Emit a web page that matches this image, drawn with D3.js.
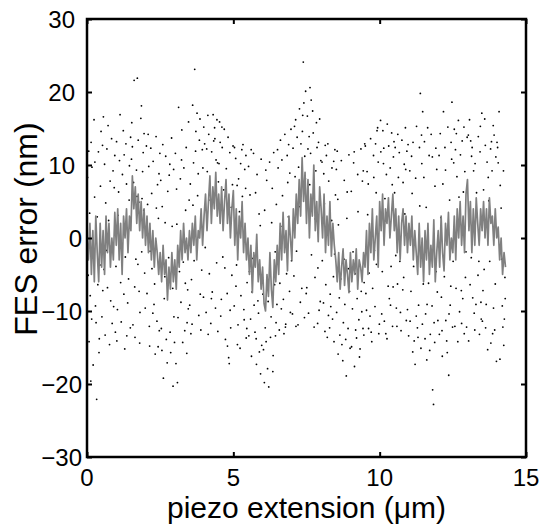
<!DOCTYPE html>
<html>
<head>
<meta charset="utf-8">
<script src="https://cdn.jsdelivr.net/npm/d3@7"></script>
<style>
  body { margin: 0; background: #fff; }
  text { font-family: "Liberation Sans", Arial, sans-serif; fill: #000; }
</style>
</head>
<body>
<script>
// Tick values
const xTicks = [0, 5, 10, 15];
const yTicks = [-30, -20, -10, 0, 10, 20, 30];

// Grey line: FES error sampled every 0.05 um starting at 0
const lineStart = 0;
const lineStep = 0.05;
const lineValues = [
  0, -3, 2, -5, 1, -6, 3, -2, -6, 2,
  -4, 1, -5, 3, -2, 2, -4, 0, -3, 3.5,
  -1, 4, -3, 2, -5, 3, 0, 4, -2, 3,
  1, 8.5, 4, 7, 2, 6, 1, 5, 0, 4,
  -1, 3, -2, 2, -3, 1, -4, 0, -2, -5,
  -2, -6, -1, -5, -3, -8.5, -4, -7, -2, -6,
  -3, -7, -1, -4, 1, -3, 2, -2, 0, -3,
  1, -2, 2, -1, 3, -3, 1, 0, 4, -1,
  3, 6, 1, 5, 8.5, 2, 7, 4, 9, 3,
  6, 2, 7, 1, 5, 8, 2, 6, 0, 4,
  6.5, -1, 4, -3, 3, 0, 5, -2, 2, -3,
  0, -5, -1, -7.5, -2, -4, 0.5, -6, -3, -7,
  -4, -9, -10, -5, -8, -2, -7, -9.5, -3, -6,
  -1, -5, 2, -3, 3.5, -2, 1, -4.5, 3, 0,
  -3, 4, 0, 6, 2, 8, 3, 11, 5, 9,
  2, 8, 0, 6, 3, 10, 1, 5, -0.5, 7,
  4, 0, 6, -2, 3, -1, 5, -2.5, 2, -1,
  -3, -6, -2, -7, -4, -1.5, -6.5, -3, -5, -7.5,
  -2, -6, -3, -5, -1.5, -7, -3, -4, -6, -2,
  -4, 1, -5, 2, -2, 4, -3, 0, 3, -4,
  5, 1, 6, -1, 4, 2, 5.5, 0, 3, 6,
  1, 4, -2, 3, -3, 2, 4, -1, 3, -2,
  2, -1, 3, -3, 1, -2, -5, 2, -4, 0,
  -6, 1, -3, 2, -5, -1, -4, 2.5, -6, -2,
  1, -4, 3, -2, -4.5, 2, -1, 3.5, -3, 0,
  -2, 3, -3, 4, 0, 5, -1, 3, -2, 6,
  8, 1, 5, -2, 4, -1, 5.5, 2, -1, 4,
  1, 5, 0, 4, -1, 5.5, 2, 3, -1, 4,
  0, 1.5, -3, 0, -5, -2, -4
];

// Scattered raw points [piezo extension, FES error]
const dotPoints = [
  [0.02,8.3],[0.31,-11.6],[0.14,13.1],[0.44,-3.7],[0.07,-14.2],[0.26,5.6],[0.39,11.8],[0.11,-7.9],[0.21,-17.4],[0.35,2.9],[0.04,-5.1],[0.48,14.6],[0.17,9.7],[0.29,-9.3],[0.42,-13.8],[0.09,3.4],[0.24,16.2],[0.37,-6.4],[0.46,7.1],[0.13,-19.6],[0.33,-22.1],[0.19,-2.2],[0.06,11.9],[0.41,-15.7],[0.27,10.4],[0.16,-11.1],
  [0.53,12.7],[0.81,-8.6],[0.64,4.8],[0.97,-12.9],[0.58,-4.3],[0.72,15.4],[0.89,9.2],[0.51,-10.8],[0.77,-14.6],[0.93,6.9],[0.66,-1.7],[0.84,13.6],[0.6,10.1],[0.7,-6.8],[0.99,-3.9],[0.56,16.6],[0.86,-11.7],[0.74,2.4],[0.62,-13.3],[0.95,11.3],[0.79,7.8],[0.54,-7.2],[0.68,12.2],[0.91,-9.4],[0.83,-1.1],
  [1.04,-9.8],[1.27,11.4],[1.13,16.9],[1.42,-5.6],[1.08,6.3],[1.36,-13.4],[1.21,8.7],[1.49,13.8],[1.02,-14.1],[1.31,-2.6],[1.17,-11.5],[1.45,9.9],[1.24,14.7],[1.06,3.1],[1.39,-8.9],[1.15,-6.1],[1.33,12.9],[1.48,-12.3],[1.11,10.6],[1.29,-15.2],[1.44,5.2],[1.19,-3.4],[1.35,7.4],[1.01,13.2],[1.26,-7.7],
  [1.53,15.8],[1.78,-7.3],[1.61,21.6],[1.92,11.7],[1.57,-11.9],[1.84,16.4],[1.69,9.3],[1.97,-4.8],[1.64,-13.6],[1.88,5.4],[1.72,21.9],[1.55,12.5],[1.81,-10.2],[1.95,14.3],[1.67,-2.9],[1.86,18.1],[1.59,7.6],[1.75,13.4],[1.99,-9.6],[1.63,-6.7],[1.9,9.1],[1.71,5.7],[1.8,-14.4],[1.52,10.8],[1.94,3.8],[1.77,4.9],[1.74,-3.6],[1.87,-1.9],
  [2.03,12.6],[2.29,-9.1],[2.14,-14.8],[2.41,7.3],[2.07,4.6],[2.36,13.9],[2.22,-4.2],[2.47,-12.7],[2.11,9.8],[2.33,-15.9],[2.18,12.3],[2.44,2.7],[2.05,-7.6],[2.26,10.5],[2.39,-11.4],[2.16,-1.8],[2.49,11.6],[2.21,6.1],[2.31,-6.3],[2.09,14.2],[2.43,-14.9],[2.25,-10.3],[2.37,4.1],[2.13,-12.1],[2.46,8.8],
  [2.54,-12.4],[2.81,8.6],[2.61,-19.2],[2.93,-6.9],[2.57,4.3],[2.86,-15.7],[2.69,11.2],[2.97,-10.8],[2.64,-8.3],[2.89,13.7],[2.74,-17.1],[2.52,7.9],[2.79,-2.7],[2.94,-20.3],[2.67,2.1],[2.84,-12.9],[2.59,12.8],[2.76,6.4],[2.99,-14.3],[2.71,-13.9],[2.91,1.6],[2.56,-15.4],[2.83,10.1],[2.66,-5.3],[2.96,9.4],
  [3.04,-17.2],[3.31,9.6],[3.09,-19.8],[3.42,-11.6],[3.13,17.9],[3.37,3.8],[3.21,-8.8],[3.47,15.9],[3.06,6.7],[3.27,-14.3],[3.39,12.4],[3.16,-4.6],[3.44,-7.1],[3.02,11.6],[3.24,14.8],[3.34,-12.7],[3.11,-10.9],[3.49,5.2],[3.19,8.1],[3.29,-3.3],[3.41,-15.8],[3.07,1.9],[3.36,-6.2],[3.23,10.7],[3.46,-9.7],
  [3.53,7.4],[3.82,-10.6],[3.61,18.2],[3.94,12.1],[3.57,-5.7],[3.86,16.3],[3.68,23.1],[3.98,-8.1],[3.64,10.3],[3.89,-12.6],[3.72,14.6],[3.51,-9.2],[3.78,5.8],[3.96,9.6],[3.66,-3.1],[3.84,13.4],[3.59,-11.8],[3.76,17.1],[3.92,-4.4],[3.62,4.5],[3.87,-7.7],[3.71,11.9],[3.99,15.2],[3.55,-13.1],[3.8,8.8],
  [4.02,12.9],[4.28,-7.4],[4.13,16.8],[4.41,10.7],[4.07,-10.2],[4.36,15.1],[4.21,5.2],[4.47,-12.8],[4.11,9.1],[4.33,13.3],[4.18,-4.9],[4.44,16.2],[4.04,-1.3],[4.26,11.8],[4.39,-9.6],[4.16,14.2],[4.49,7.7],[4.23,-11.7],[4.31,16.9],[4.09,12.2],[4.43,-3.4],[4.25,-8.3],[4.37,13.6],[4.14,-13.2],[4.46,10.3],
  [4.53,15.9],[4.79,-7.6],[4.62,12.4],[4.91,-12.3],[4.57,-10.7],[4.84,-16.4],[4.69,14.9],[4.97,7.3],[4.64,-2.6],[4.88,11.7],[4.73,-13.9],[4.51,10.2],[4.82,13.8],[4.95,-5.1],[4.67,6.6],[4.86,-17.2],[4.59,-8.4],[4.76,9.5],[4.99,12.6],[4.61,15.2],[4.89,-9.9],[4.71,-4.1],[4.93,4.2],[4.55,13.1],[4.8,-14.8],
  [5.03,-9.3],[5.29,12.1],[5.14,-14.6],[5.42,6.8],[5.08,10.9],[5.37,-11.2],[5.21,3.6],[5.47,-6.1],[5.11,-3.7],[5.33,12.8],[5.18,8.1],[5.44,-13.7],[5.04,12.4],[5.26,-7.9],[5.39,9.4],[5.16,-11.9],[5.49,-1.4],[5.23,-15.1],[5.31,5.7],[5.09,-6.6],[5.43,11.3],[5.25,10.2],[5.36,-9.8],[5.13,7.2],[5.46,-12.4],
  [5.53,-13.4],[5.81,8.7],[5.62,-16.2],[5.93,-18.6],[5.57,5.9],[5.86,-10.3],[5.69,11.6],[5.97,-14.7],[5.64,-7.4],[5.88,3.3],[5.74,-12.9],[5.52,9.8],[5.79,-17.3],[5.95,10.8],[5.67,-2.8],[5.84,-8.6],[5.59,-11.1],[5.76,6.2],[5.99,-5.4],[5.61,12.1],[5.89,-15.6],[5.71,-9.2],[5.92,1.7],[5.55,-4.6],[5.78,-13.8],
  [6.03,-15.3],[6.29,-10.8],[6.06,-19.8],[6.41,-6.4],[6.14,7.9],[6.36,-16.1],[6.17,-17.9],[6.47,4.6],[6.21,-20.4],[6.33,6.8],[6.09,-12.3],[6.44,-13.4],[6.24,10.4],[6.01,-7.7],[6.38,11.7],[6.12,-14.2],[6.49,-9.1],[6.27,-13.6],[6.31,2.1],[6.07,3.8],[6.43,-1.9],[6.19,-8.7],[6.35,-18.3],[6.11,9.3],[6.46,-11.6],
  [6.53,9.6],[6.79,-11.8],[6.61,13.4],[6.92,-7.3],[6.57,-12.6],[6.84,11.3],[6.68,5.8],[6.97,14.9],[6.64,-9.7],[6.88,2.9],[6.73,-13.1],[6.51,12.1],[6.82,-4.9],[6.95,-10.2],[6.66,10.7],[6.86,7.6],[6.59,-6.2],[6.76,14.2],[6.99,-3.1],[6.62,1.6],[6.89,12.8],[6.71,-8.4],[6.93,8.9],[6.55,-2.7],[6.78,-12.2],
  [7.04,12.3],[7.29,-8.8],[7.13,16.2],[7.41,18.5],[7.07,-5.2],[7.36,14.6],[7.21,-11.9],[7.47,20.1],[7.11,8.4],[7.34,-6.9],[7.18,13.8],[7.44,11.2],[7.02,-10.4],[7.26,17.7],[7.39,24.1],[7.16,-1.8],[7.49,-7.6],[7.23,9.7],[7.31,12.9],[7.09,15.3],[7.43,-10.9],[7.25,4.3],[7.37,16.8],[7.14,-12.1],[7.46,8.1],
  [7.53,16.7],[7.79,-5.4],[7.62,20.6],[7.91,13.1],[7.57,-10.3],[7.84,15.8],[7.66,18.9],[7.97,-8.7],[7.64,11.6],[7.88,-11.7],[7.73,14.4],[7.51,-6.8],[7.82,9.2],[7.95,16.3],[7.67,-2.3],[7.86,12.4],[7.59,13.9],[7.76,-12.2],[7.99,10.6],[7.61,7.3],[7.89,-4.1],[7.71,17.4],[7.93,-9.9],[7.55,12.2],[7.8,2.6],
  [8.03,10.4],[8.29,-12.3],[8.14,12.7],[8.42,-5.3],[8.08,-8.9],[8.37,9.6],[8.21,-13.6],[8.47,12.1],[8.11,4.7],[8.33,-9.4],[8.18,11.3],[8.44,-14.2],[8.04,-3.1],[8.26,7.8],[8.39,-11.1],[8.16,-6.4],[8.49,5.9],[8.23,12.9],[8.31,-7.7],[8.09,8.8],[8.43,10.5],[8.25,-10.6],[8.36,2.4],[8.13,-12.8],[8.46,-2.2],
  [8.53,-10.2],[8.79,7.9],[8.58,-15.9],[8.92,-12.4],[8.57,5.3],[8.86,-18.9],[8.69,10.6],[8.97,-7.3],[8.64,-13.3],[8.88,2.7],[8.74,-16.8],[8.52,9.4],[8.81,-9.1],[8.95,11.4],[8.67,-5.6],[8.84,-13.9],[8.59,1.8],[8.76,-11.6],[8.99,-15.1],[8.62,-8.2],[8.89,6.3],[8.71,-14.6],[8.93,-4.2],[8.55,11.9],[8.78,-2.9],
  [9.03,6.4],[9.29,-11.2],[9.14,-17.6],[9.41,7.8],[9.07,-9.7],[9.36,12.2],[9.21,-13.7],[9.47,-6.1],[9.11,10.3],[9.33,-15.2],[9.18,-12.6],[9.44,9.2],[9.04,-14.9],[9.26,3.6],[9.39,-10.1],[9.16,-4.9],[9.49,12.9],[9.23,-8.3],[9.31,-16.3],[9.09,-1.9],[9.43,-12.4],[9.25,8.7],[9.37,-7.3],[9.13,11.8],[9.46,-13.3],
  [9.53,-7.6],[9.79,11.3],[9.62,-12.4],[9.91,14.7],[9.57,9.1],[9.84,-9.4],[9.69,13.6],[9.97,-13.1],[9.64,-4.8],[9.88,6.2],[9.73,-14.2],[9.51,12.6],[9.82,-1.7],[9.95,10.4],[9.67,-10.7],[9.86,12.9],[9.59,3.2],[9.76,-6.9],[9.99,-11.8],[9.61,7.4],[9.89,-3.6],[9.71,-12.9],[9.93,15.1],[9.55,-9.9],[9.8,8.3],
  [10.03,16.1],[10.29,-6.6],[10.14,12.3],[10.41,14.4],[10.07,-10.4],[10.36,9.6],[10.21,-13.1],[10.47,11.1],[10.11,14.7],[10.33,-8.3],[10.18,5.4],[10.44,-12.1],[10.04,11.8],[10.26,15.6],[10.39,-3.9],[10.16,-11.4],[10.49,13.2],[10.23,8.7],[10.31,12.6],[10.09,-4.6],[10.43,7.3],[10.25,-13.8],[10.37,-9.2],[10.13,10.2],[10.46,-6.7],
  [10.53,12.4],[10.79,-7.1],[10.62,14.2],[10.91,-11.3],[10.57,-9.6],[10.84,10.1],[10.69,-3.2],[10.97,12.8],[10.64,8.3],[10.88,15.1],[10.73,-12.7],[10.51,6.2],[10.82,-5.4],[10.95,-9.8],[10.67,11.7],[10.86,3.3],[10.59,-12.1],[10.76,13.4],[10.99,-13.4],[10.61,-6.3],[10.89,9.4],[10.71,-10.2],[10.93,11.9],[10.55,-2.4],[10.8,7.6],
  [11.03,9.2],[11.29,-12.3],[11.14,13.1],[11.41,-15.1],[11.07,-7.3],[11.36,12.4],[11.21,-17.3],[11.47,17.3],[11.11,6.1],[11.33,-9.2],[11.18,-14.1],[11.44,10.2],[11.04,-11.4],[11.26,15.3],[11.39,19.8],[11.16,-3.9],[11.49,-6.3],[11.23,8.2],[11.31,-13.6],[11.09,11.2],[11.43,14.1],[11.25,-10.7],[11.37,4.4],[11.13,-15.6],[11.46,-11.8],
  [11.53,13.2],[11.79,-9.3],[11.61,-16.7],[11.92,12.3],[11.57,-10.4],[11.84,-22.8],[11.69,11.3],[11.97,-7.4],[11.64,15.1],[11.88,-14.3],[11.73,-13.2],[11.51,8.3],[11.81,-20.8],[11.95,9.4],[11.67,-6.2],[11.86,-11.6],[11.59,4.2],[11.76,14.2],[11.99,-11.3],[11.62,-9.1],[11.89,7.1],[11.71,-15.4],[11.93,-4.6],[11.55,-13.8],[11.8,11.1],
  [12.03,11.3],[12.29,-14.1],[12.14,-16.2],[12.41,-9.2],[12.07,14.3],[12.36,-18.8],[12.21,-5.3],[12.47,18.6],[12.11,-8.1],[12.33,15.2],[12.18,17.3],[12.44,13.1],[12.04,-13.2],[12.26,-11.3],[12.39,5.2],[12.16,7.4],[12.49,-12.2],[12.23,12.4],[12.31,-15.7],[12.09,2.8],[12.43,-6.6],[12.25,9.3],[12.37,-10.4],[12.13,-12.7],[12.46,10.8],
  [12.53,10.3],[12.79,-7.2],[12.62,14.3],[12.91,9.1],[12.57,-12.1],[12.84,-8.3],[12.69,16.1],[12.97,-12.2],[12.64,8.4],[12.88,15.2],[12.73,-10.1],[12.51,-3.2],[12.82,13.3],[12.95,-1.9],[12.67,-14.2],[12.86,6.3],[12.59,12.1],[12.76,11.4],[12.99,13.8],[12.61,-6.9],[12.89,-13.1],[12.71,5.6],[12.93,-5.4],[12.55,14.9],[12.8,-11.7],
  [13.03,14.1],[13.29,-9.1],[13.14,11.2],[13.41,-13.2],[13.07,16.2],[13.36,-5.1],[13.21,9.2],[13.47,-11.1],[13.11,13.3],[13.33,3.1],[13.18,-8.2],[13.44,15.3],[13.04,-14.1],[13.26,10.2],[13.39,-3.2],[13.16,12.4],[13.49,17.1],[13.23,-10.3],[13.31,6.2],[13.09,-6.4],[13.43,11.8],[13.25,-12.6],[13.37,13.9],[13.13,-2.7],[13.46,-8.8],
  [13.53,-7.2],[13.79,12.2],[13.62,-12.3],[13.91,14.1],[13.57,-4.3],[13.84,9.2],[13.69,-15.3],[13.97,11.1],[13.64,-9.1],[13.88,15.4],[13.73,5.1],[13.51,-11.4],[13.82,13.2],[13.95,-6.3],[13.67,10.4],[13.86,-13.1],[13.59,16.3],[13.76,-3.2],[13.99,-16.9],[13.61,12.7],[13.89,-9.6],[13.71,8.3],[13.93,-12.6],[13.55,6.6],[13.8,-14.4],
  [14.03,12.4],[14.19,-9.3],[14.08,17.3],[14.24,-14.7],[14.12,7.2],[14.28,-5.4],[14.05,10.3],[14.21,-12.2],[14.15,4.1],[14.29,-8.3],[14.01,13.1],[14.26,-11.1],[14.11,-16.6],[14.17,-2.9],[14.23,9.2]
];

// Layout
const width = 542;
const height = 525;
const margin = { top: 19, right: 16, bottom: 68, left: 87 };
const plotW = width - margin.left - margin.right;
const plotH = height - margin.top - margin.bottom;
const tickLen = 5;

const svg = d3
  .select("body")
  .append("svg")
  .attr("width", width)
  .attr("height", height);

const g = svg
  .append("g")
  .attr("transform", `translate(${margin.left}, ${margin.top})`);

const x = d3.scaleLinear().domain([0, 15]).range([0, plotW]);
const y = d3.scaleLinear().domain([-30, 30]).range([plotH, 0]);

const fmt = (d) => (d < 0 ? "\u2212" + Math.abs(d) : String(d));

// Scatter dots
g.append("g")
  .selectAll("circle")
  .data(dotPoints)
  .enter()
  .append("circle")
  .attr("cx", (d) => x(d[0]))
  .attr("cy", (d) => y(d[1]))
  .attr("r", 0.9)
  .attr("fill", "#000");

// Grey line
const line = d3
  .line()
  .x((d, i) => x(lineStart + i * lineStep))
  .y((d) => y(d));

g.append("path")
  .datum(lineValues)
  .attr("fill", "none")
  .attr("stroke", "#808080")
  .attr("stroke-width", 1.7)
  .attr("stroke-linejoin", "round")
  .attr("d", line);

// Axes (ticks pointing inward, mirrored on top and right)
const axisStyle = (sel) => {
  sel.select(".domain").remove();
  sel.selectAll(".tick line").attr("stroke", "#000").attr("stroke-width", 2);
  sel.selectAll(".tick text").remove();
};

g.append("g")
  .attr("transform", `translate(0, ${plotH})`)
  .call(d3.axisTop(x).tickValues(xTicks).tickSize(tickLen))
  .call(axisStyle);
g.append("g")
  .call(d3.axisBottom(x).tickValues(xTicks).tickSize(tickLen))
  .call(axisStyle);
g.append("g")
  .call(d3.axisRight(y).tickValues(yTicks).tickSize(tickLen))
  .call(axisStyle);
g.append("g")
  .attr("transform", `translate(${plotW}, 0)`)
  .call(d3.axisLeft(y).tickValues(yTicks).tickSize(tickLen))
  .call(axisStyle);

// Box
g.append("rect")
  .attr("width", plotW)
  .attr("height", plotH)
  .attr("fill", "none")
  .attr("stroke", "#000")
  .attr("stroke-width", 2.5);

// Tick labels
g.selectAll(".xlab")
  .data(xTicks)
  .enter()
  .append("text")
  .attr("x", (d) => x(d))
  .attr("y", plotH + 29)
  .attr("text-anchor", "middle")
  .style("font-size", "24px")
  .text(fmt);

g.selectAll(".ylab")
  .data(yTicks)
  .enter()
  .append("text")
  .attr("x", (d) => (d > 0 ? -12 : -5))
  .attr("y", (d) => y(d) + 1)
  .attr("dy", "0.35em")
  .attr("text-anchor", "end")
  .style("font-size", "24px")
  .text(fmt);

// Axis titles
svg
  .append("text")
  .attr("x", margin.left + plotW / 2)
  .attr("y", 518)
  .attr("text-anchor", "middle")
  .style("font-size", "30px")
  .text("piezo extension (\u03bcm)");

svg
  .append("text")
  .attr("transform", "translate(37, 229) rotate(-90)")
  .attr("text-anchor", "middle")
  .style("font-size", "32px")
  .text("FES error (nm)");
</script>
</body>
</html>
